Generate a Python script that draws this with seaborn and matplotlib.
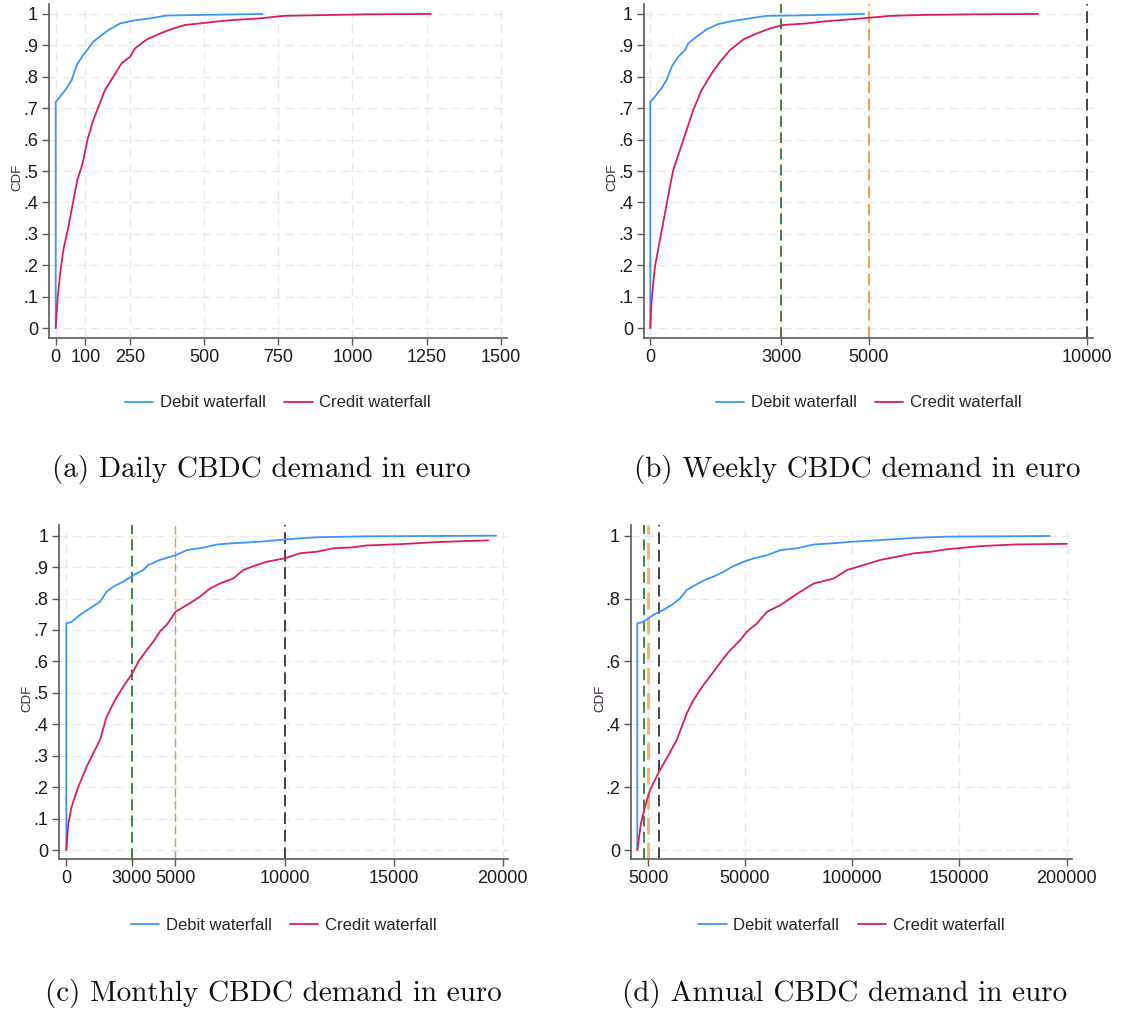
import matplotlib
matplotlib.use("Agg")
import matplotlib.pyplot as plt
import seaborn as sns
import pandas as pd

# ---------------- data ----------------
# (a) Daily
a_debit_x = [0, 0, 15, 37, 54, 71, 93, 110, 127, 149, 178, 217, 262, 318, 374, 487, 697]
a_debit_y = [0, 0.72, 0.737, 0.764, 0.79, 0.838, 0.87, 0.89, 0.912, 0.928, 0.949, 0.97, 0.979, 0.986, 0.995, 0.997, 1.0]
a_credit_x = [0, 6, 15, 26, 43, 60, 73, 91, 107, 127, 149, 166, 194, 222, 251, 267, 307, 352, 397, 436,
              487, 543, 599, 689, 767, 936, 1048, 1264]
a_credit_y = [0, 0.09, 0.175, 0.249, 0.323, 0.408, 0.472, 0.525, 0.6, 0.663, 0.716, 0.758, 0.8, 0.843, 0.864,
              0.89, 0.919, 0.938, 0.954, 0.965, 0.97, 0.976, 0.981, 0.986, 0.994, 0.997, 0.999, 1.0]

# (b) Weekly
b_debit_x = [0, 0, 107, 260, 374, 489, 641, 794, 870, 1061, 1290, 1557, 1901, 2283, 2664, 3580, 4893]
b_debit_y = [0, 0.72, 0.737, 0.764, 0.79, 0.832, 0.864, 0.885, 0.907, 0.928, 0.951, 0.968, 0.978, 0.986,
             0.994, 0.996, 1.0]
b_credit_x = [0, 31, 107, 221, 336, 450, 527, 679, 832, 985, 1176, 1405, 1596, 1825, 2130, 2435, 2741, 3046,
              3580, 3962, 4573, 5000, 5489, 6252, 7397, 8871]
b_credit_y = [0, 0.09, 0.196, 0.281, 0.366, 0.451, 0.504, 0.567, 0.631, 0.695, 0.758, 0.811, 0.848, 0.885,
              0.919, 0.938, 0.954, 0.965, 0.97, 0.976, 0.983, 0.988, 0.994, 0.997, 0.999, 1.0]

# (c) Monthly
c_debit_x = [0, 0, 244, 626, 1085, 1543, 1849, 2154, 2613, 3025, 3530, 3759, 4293, 5011, 5516, 6280, 6891,
             7655, 8877, 10008, 11475, 13767, 19695]
c_debit_y = [0, 0.721, 0.726, 0.748, 0.769, 0.79, 0.822, 0.838, 0.854, 0.872, 0.891, 0.907, 0.923, 0.938,
             0.954, 0.962, 0.972, 0.976, 0.981, 0.988, 0.995, 0.998, 1.0]
c_credit_x = [0, 92, 244, 550, 932, 1238, 1543, 1849, 2231, 2613, 3025, 3300, 3682, 3988, 4293, 4599, 5011,
              5516, 6127, 6585, 7044, 7655, 8113, 8724, 9183, 10008, 10711, 11475, 12239, 13156, 13767,
              15295, 16822, 18350, 19343]
c_credit_y = [0, 0.085, 0.138, 0.201, 0.265, 0.308, 0.35, 0.424, 0.477, 0.52, 0.562, 0.599, 0.636, 0.663,
              0.695, 0.716, 0.758, 0.779, 0.806, 0.832, 0.848, 0.864, 0.891, 0.907, 0.917, 0.928, 0.944,
              0.949, 0.96, 0.963, 0.969, 0.973, 0.979, 0.983, 0.985]

# (d) Annual
d_debit_x = [0, 0, 2800, 7480, 12150, 16830, 19940, 23060, 26170, 30850, 35520, 40200, 44090, 49540, 54220,
             60450, 66680, 74470, 82260, 91610, 100960, 113420, 129000, 144580, 192100]
d_debit_y = [0, 0.721, 0.726, 0.748, 0.764, 0.783, 0.801, 0.827, 0.84, 0.857, 0.87, 0.885, 0.901, 0.917,
             0.928, 0.938, 0.954, 0.96, 0.972, 0.976, 0.981, 0.986, 0.993, 0.997, 0.999]
d_credit_x = [0, 1700, 3580, 5920, 10130, 13710, 18380, 23060, 26170, 30850, 35520, 40200, 43310, 47990,
              51100, 55780, 60450, 66680, 71360, 76030, 82260, 91610, 97840, 105630, 113420, 129000, 136800,
              144580, 160160, 175740, 200200]
d_credit_y = [0, 0.085, 0.138, 0.191, 0.249, 0.292, 0.35, 0.435, 0.477, 0.525, 0.567, 0.61, 0.636, 0.668,
              0.695, 0.721, 0.758, 0.779, 0.801, 0.822, 0.848, 0.864, 0.891, 0.907, 0.923, 0.944, 0.949,
              0.957, 0.967, 0.972, 0.974]

series_names = ["Debit waterfall", "Credit waterfall"]
captions = ["(a) Daily CBDC demand in euro", "(b) Weekly CBDC demand in euro",
            "(c) Monthly CBDC demand in euro", "(d) Annual CBDC demand in euro"]

a_xticks = [0, 100, 250, 500, 750, 1000, 1250, 1500]
b_xticks = [0, 3000, 5000, 10000]
c_xticks = [0, 3000, 5000, 10000, 15000, 20000]
d_xticks = [5000, 50000, 100000, 150000, 200000]
y_ticks_fine = [0, .1, .2, .3, .4, .5, .6, .7, .8, .9, 1]
y_labels_fine = ["0", ".1", ".2", ".3", ".4", ".5", ".6", ".7", ".8", ".9", "1"]
y_ticks_coarse = [0, .2, .4, .6, .8, 1]
y_labels_coarse = ["0", ".2", ".4", ".6", ".8", "1"]

thresholds = [3000, 5000, 10000]

# ---------------- style ----------------
sns.set_theme(style="white")
plt.rcParams["font.family"] = ["Liberation Sans", "DejaVu Sans"]

BLUE = "#3a96ff"
RED = "#d81e5b"
TH_COLORS = ["#2e7d32", "#f0a040", "#444444"]
palette = {series_names[0]: BLUE, series_names[1]: RED}

fig = plt.figure(figsize=(11.3, 10.11), dpi=100)

H = 1011.0
W = 1130.0
def rect(l, r, t, b):
    return [l / W, (H - b) / H, (r - l) / W, (b - t) / H]

panels = [
    dict(rect=rect(49, 507, 4, 338), xlim=(-22.6, 1521), ylim=(-0.0318, 1.0318),
         dx=a_debit_x, dy=a_debit_y, cx=a_credit_x, cy=a_credit_y, xticks=a_xticks,
         yt=y_ticks_fine, yl=y_labels_fine, th=[], leg_y=403, cap=(261, 470),
         orange=(1.3, "#f0a040")),
    dict(rect=rect(644, 1093, 4, 338), xlim=(-144, 10130), ylim=(-0.0318, 1.0318),
         dx=b_debit_x, dy=b_debit_y, cx=b_credit_x, cy=b_credit_y, xticks=b_xticks,
         yt=y_ticks_fine, yl=y_labels_fine, th=thresholds, leg_y=403, cap=(857, 470),
         orange=(1.4, "#f0a040")),
    dict(rect=rect(59.3, 508, 525, 859), xlim=(-321, 20243), ylim=(-0.0286, 1.034),
         dx=c_debit_x, dy=c_debit_y, cx=c_credit_x, cy=c_credit_y, xticks=c_xticks,
         yt=y_ticks_fine, yl=y_labels_fine, th=thresholds, leg_y=925, cap=(273, 993),
         orange=(1.0, "#ee9a30")),
    dict(rect=rect(631, 1071.7, 525, 859), xlim=(-2936, 202420), ylim=(-0.0286, 1.034),
         dx=d_debit_x, dy=d_debit_y, cx=d_credit_x, cy=d_credit_y, xticks=d_xticks,
         yt=y_ticks_coarse, yl=y_labels_coarse, th=thresholds, leg_y=925, cap=(845, 993),
         orange=(2.0, "#f4b25e")),
]

for i, p in enumerate(panels):
    ax = fig.add_axes(p["rect"])
    df = pd.concat([
        pd.DataFrame({"x": p["dx"], "cdf": p["dy"], "series": series_names[0]}),
        pd.DataFrame({"x": p["cx"], "cdf": p["cy"], "series": series_names[1]}),
    ], ignore_index=True)

    ax.set_xlim(*p["xlim"])
    ax.set_ylim(*p["ylim"])
    ax.set_xticks(p["xticks"])
    ax.set_xticklabels([str(t) for t in p["xticks"]])
    ax.set_yticks(p["yt"])
    ax.set_yticklabels(p["yl"])
    ax.grid(True, color="#e8e8e8", linestyle=(0, (6, 4)), linewidth=1.0)
    ax.set_axisbelow(True)

    widths = [1.3, p["orange"][0], 1.4]
    colors = [TH_COLORS[0], p["orange"][1], TH_COLORS[2]]
    for tval, tcol, tw in zip(p["th"], colors, widths):
        ax.axvline(tval, color=tcol, linestyle=(0, (6, 3)), linewidth=tw, zorder=2)

    sns.lineplot(data=df, x="x", y="cdf", hue="series", palette=palette, estimator=None,
                 sort=False, linewidth=1.3, ax=ax, legend=True, zorder=3)

    for s in ["top", "right"]:
        ax.spines[s].set_visible(False)
    for s in ["left", "bottom"]:
        ax.spines[s].set_color("#5a5a5a")
        ax.spines[s].set_linewidth(1.2)
    ax.tick_params(axis="both", direction="out", length=5, width=1.0, color="#5a5a5a",
                   labelsize=13, labelcolor="#1a1a1a", pad=3, bottom=True, left=True)
    ax.set_xlabel("")
    ax.set_ylabel("CDF", fontsize=9.5, color="#3b2c3b")
    ax.yaxis.set_label_coords(-0.057, 0.48)

    rect_ = p["rect"]
    handles, labels = ax.get_legend_handles_labels()
    ax.legend(handles, labels, loc="center",
              bbox_to_anchor=(0.5, ((1 - p["leg_y"] / H) - rect_[1]) / rect_[3]),
              ncol=2, frameon=False, fontsize=12, handlelength=1.7, handletextpad=0.4,
              columnspacing=1.1)

    fig.text(p["cap"][0] / W, 1 - p["cap"][1] / H, captions[i], ha="center", va="center",
             fontsize=21, family=["cmr10", "DejaVu Serif"], color="#111111")

fig.savefig("out.png", dpi=100)
